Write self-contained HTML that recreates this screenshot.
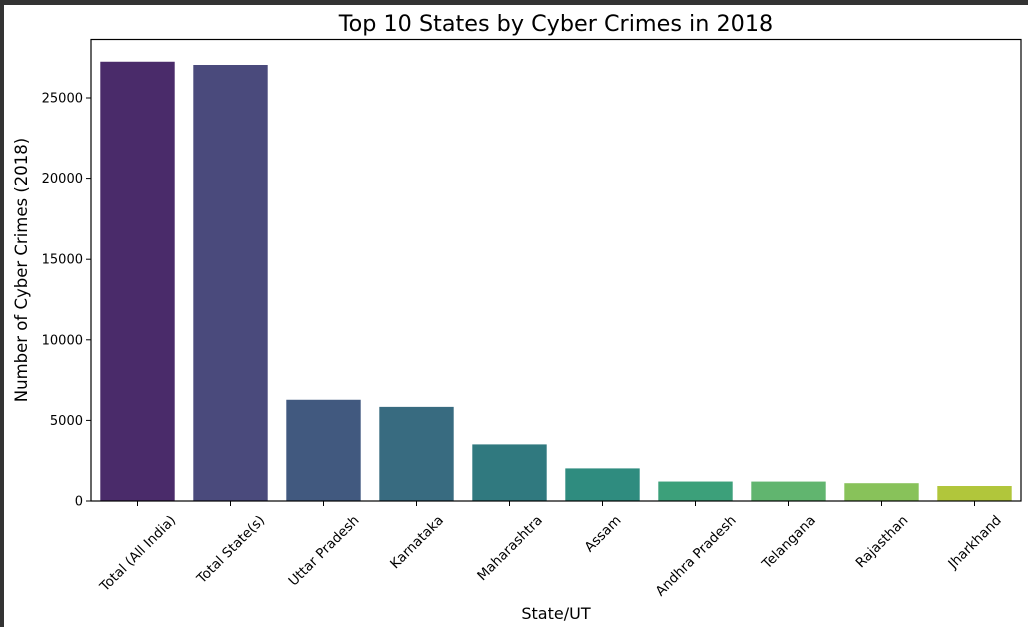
<!DOCTYPE html>
<html><head><meta charset="utf-8"><style>
html,body{margin:0;padding:0;background:#fff;}
body{width:1028px;height:627px;overflow:hidden;font-family:"Liberation Sans","DejaVu Sans",sans-serif;}
</style></head><body>
<svg id="chart" width="1028" height="627" xmlns="http://www.w3.org/2000/svg" font-family="DejaVu Sans, Liberation Sans, sans-serif">
<rect x="0" y="0" width="1028" height="627" fill="#fff"/>
<rect x="0" y="0" width="1028" height="5" fill="#333"/>
<rect x="0" y="0" width="4" height="627" fill="#333"/>
<text x="556" y="31" text-anchor="middle" font-size="22.3">Top 10 States by Cyber Crimes in 2018</text>
<text transform="translate(27,270) rotate(-90)" text-anchor="middle" font-size="16.5">Number of Cyber Crimes (2018)</text>
<text x="556" y="619" text-anchor="middle" font-size="16">State/UT</text>
<g id="bars"></g><g id="axes"></g>
<rect x="91" y="39.5" width="930" height="461.5" fill="none" stroke="#000" stroke-width="1.2"/>
</svg>
<script>
const categories=["Total (All India)","Total State(s)","Uttar Pradesh","Karnataka","Maharashtra","Assam","Andhra Pradesh","Telangana","Rajasthan","Jharkhand"];
const values=[27248,27047,6280,5839,3511,2022,1207,1205,1104,930];
const colors=["#4a2b6a","#4a4a7c","#41597f","#386b80","#30797f","#2f8c7f","#3ca07a","#61b56f","#88c25a","#b1c63b"];
const yTicks=[0,5000,10000,15000,20000,25000];
const L=91,R=1021,T=39,B=501;
const y=v=>B-v*(403/25000);
const x=i=>L+(i+0.5)*(R-L)/categories.length;
const bw=0.8*(R-L)/categories.length;
const NS="http://www.w3.org/2000/svg";
const bars=document.getElementById('bars'),axes=document.getElementById('axes');
function mk(tag,a,p){const e=document.createElementNS(NS,tag);for(const k in a)e.setAttribute(k,a[k]);p.appendChild(e);return e;}
values.forEach((v,i)=>{
 const r=mk('rect',{x:x(i)-bw/2,y:y(v),width:bw,height:B-y(v),fill:colors[i]},bars);
 
 
 const t=mk('line',{x1:x(i),x2:x(i),y1:B,y2:B+5,stroke:'#000','stroke-width':1},axes);
 
 
 const lb=mk('text',{x:0,y:0,'text-anchor':'middle','font-size':13.5,dy:'0.35em'},axes);
 lb.textContent=categories[i];
 const len=lb.getComputedTextLength();
 const yc=B+12+(len+13)*0.7071/2;
 lb.setAttribute('transform',`translate(${x(i)},${yc}) rotate(-45)`);
 
 
});
yTicks.forEach(v=>{
 const t=mk('line',{x1:L-5,x2:L,y1:y(v),y2:y(v),stroke:'#000','stroke-width':1},axes);
 
 
 const lb=mk('text',{x:L-8,y:y(v)+4.5,'text-anchor':'end','font-size':13},axes);
 lb.textContent=v;
 
 
});
</script>
</body></html>
